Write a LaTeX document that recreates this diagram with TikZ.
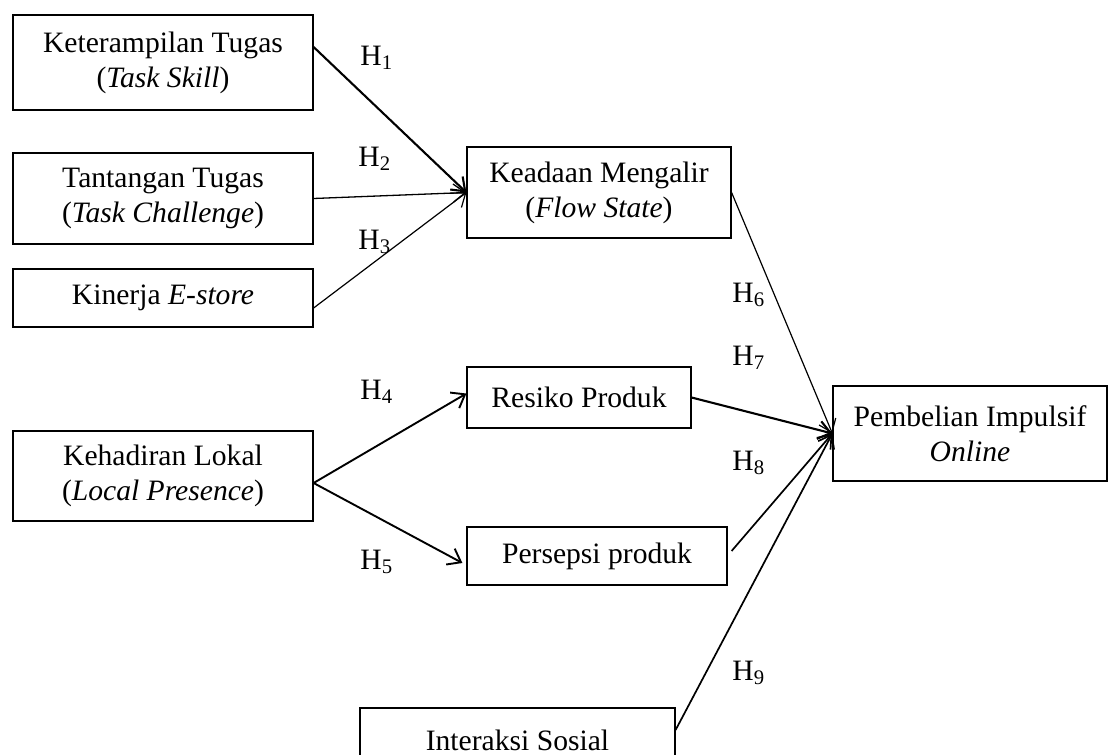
\documentclass[tikz,border=0pt]{standalone}
\usepackage{fontspec}
\setmainfont{Liberation Serif}
\usetikzlibrary{arrows.meta,calc}
\tikzset{
  box/.style={draw, line width=0.6pt, align=center, inner sep=0pt,
    font=\fontsize{14.8}{17.6}\selectfont},
  lab/.style={anchor=base west, inner sep=0pt, font=\fontsize{14.8}{17.6}\selectfont},
  arr/.style={-{Straight Barb[length=6pt,width=9pt]}, line width=#1},
  arr/.default=0.7pt
}
\begin{document}
\begin{tikzpicture}[x=0.5pt,y=-0.5pt]
\useasboundingbox (0,0) rectangle (1109,755);
% boxes (centre, size in px)
\node[box, minimum width=150pt, minimum height=47.5pt] (k1) at (163,62.5) {Keterampilan Tugas\\(\textit{Task Skill})};
\node[box, minimum width=150pt, minimum height=45.5pt] (k2) at (163,198.5) {Tantangan Tugas\\(\textit{Task Challenge})};
\node[box, minimum width=150pt, minimum height=29pt] (k3) at (163,298) {Kinerja \textit{E-store}};
\node[box, minimum width=150pt, minimum height=45pt] (k4) at (163,476) {Kehadiran Lokal\\(\textit{Local Presence})};
\node[box, minimum width=132pt, minimum height=45.5pt] (flow) at (599,192.5) {Keadaan Mengalir\\(\textit{Flow State})};
\node[box, minimum width=112pt, minimum height=30.5pt] (res) at (579,397.5) {Resiko Produk};
\node[box, minimum width=130pt, minimum height=29pt] (per) at (597,556) {Persepsi produk};
\node[box, minimum width=137pt, minimum height=47.5pt] (imp) at (970,433.5) {Pembelian Impulsif\\\textit{Online}};
\node[box, minimum width=157.5pt, minimum height=32pt] (sos) at (517.5,740) {Interaksi Sosial};
% connectors
\draw[arr=1.05pt] ([yshift=7.75pt]k1.east) -- (flow.west);
\draw[arr=0.65pt] (k2.east) -- (flow.west);
\draw[arr=0.6pt] ([yshift=-5pt]k3.east) -- (flow.west);
\draw[arr=0.95pt] ([yshift=-3.5pt]k4.east) -- ([yshift=2pt]res.west);
\draw[arr=0.95pt] ([yshift=-3.5pt]k4.east) -- ([xshift=-2pt,yshift=-3.5pt]per.west);
\draw[arr=0.6pt] (flow.east) -- (imp.west);
\draw[arr=1.05pt] (res.east) -- (imp.west);
\draw[arr=0.85pt] ([xshift=2pt,yshift=2.5pt]per.east) -- (imp.west);
\draw[arr=0.85pt] ([yshift=5pt]sos.east) -- (imp.west);
% labels
\node[lab] (h1) at (360,65) {H\textsubscript{1}};
\node[lab] (h2) at (358,166) {H\textsubscript{2}};
\node[lab] (h3) at (358,249) {H\textsubscript{3}};
\node[lab] (h4) at (360,399) {H\textsubscript{4}};
\node[lab] (h5) at (360,569) {H\textsubscript{5}};
\node[lab] (h6) at (732,302) {H\textsubscript{6}};
\node[lab] (h7) at (732,365) {H\textsubscript{7}};
\node[lab] (h8) at (732,470) {H\textsubscript{8}};
\node[lab] (h9) at (732,680) {H\textsubscript{9}};
\end{tikzpicture}
\end{document}
